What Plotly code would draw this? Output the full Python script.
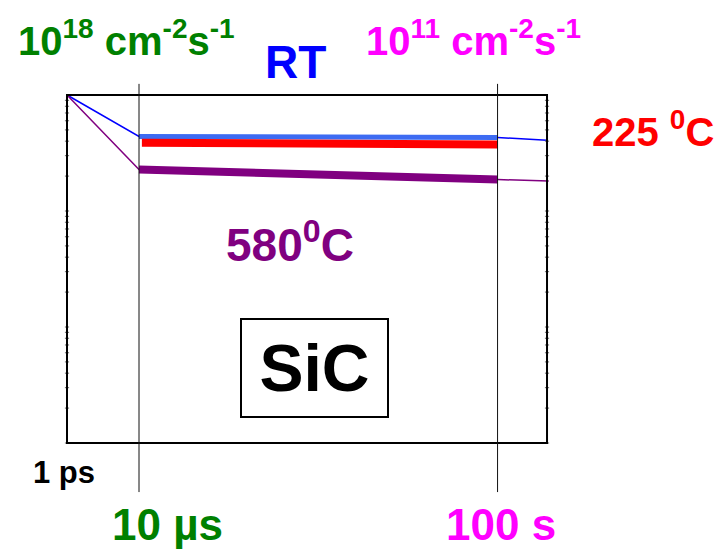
import plotly.graph_objects as go

# Schematic time axis: 1 ps at 0, 10 us at 1, 100 s at ~6 (compressed scale)
time_labels = ["1 ps", "10 µs", "100 s"]
time_pos = [0.0, 1.0, 5.98]
box_right = 6.667

# Relative level (1 = starting level at 1 ps)
rt_x = [0.0, 1.0, 5.98, 6.667]
rt_y = [1.0, 0.881, 0.878, 0.870]

t225_x = [1.04, 5.98]
t225_y = [0.863, 0.858]

t580_x = [0.0, 1.0, 5.98, 6.69]
t580_y = [1.0, 0.786, 0.757, 0.753]

# minor tick fractions inside a decade of the frame (log spacing)
minor_frac = [0.0, 0.301, 0.477, 0.602, 0.699, 0.778, 0.845, 0.903, 0.954]
n_decades = 3

W, H = 723, 551
FONT = "Liberation Sans, Arial, sans-serif"

fig = go.Figure()

# thin connecting lines
fig.add_trace(go.Scatter(x=rt_x, y=rt_y, mode="lines",
                         line=dict(color="#0000ff", width=1.5), hoverinfo="skip"))
fig.add_trace(go.Scatter(x=t580_x, y=t580_y, mode="lines",
                         line=dict(color="#800080", width=1.5), hoverinfo="skip"))
# thick segments between 10 us and 100 s
fig.add_trace(go.Scatter(x=rt_x[1:3], y=rt_y[1:3], mode="lines",
                         line=dict(color="#3d6bf2", width=5), hoverinfo="skip"))
fig.add_trace(go.Scatter(x=t225_x, y=t225_y, mode="lines",
                         line=dict(color="#ff0000", width=8), hoverinfo="skip"))
fig.add_trace(go.Scatter(x=t580_x[1:3], y=t580_y[1:3], mode="lines",
                         line=dict(color="#800080", width=8), hoverinfo="skip"))

# small ticks on the left and right frame edges
tick_y = []
for d in range(n_decades):
    for f in minor_frac:
        tick_y.append((d + f) / n_decades)
for xe in (0.0, box_right):
    fig.add_trace(go.Scatter(x=[xe] * len(tick_y), y=tick_y, mode="markers",
                             marker=dict(symbol="line-ew", size=3,
                                         line=dict(color="#666666", width=1)),
                             hoverinfo="skip"))

# frame
fig.add_shape(type="rect", x0=0, x1=box_right, y0=0, y1=1,
              line=dict(color="black", width=2))
# time markers
for xp in time_pos[1:]:
    fig.add_shape(type="line", x0=xp, x1=xp, y0=-0.141, y1=1.032,
                  line=dict(color="#111111", width=1))


def px(x):
    return x / W


def py(y):
    return 1 - y / H


def label(text, xc, base, size, color, **kw):
    fig.add_annotation(text=text, x=px(xc), y=py(base - 0.33 * size),
                       xref="paper", yref="paper", showarrow=False,
                       xanchor="center", yanchor="middle",
                       font=dict(family=FONT, size=size, color=color, weight="bold"),
                       **kw)


label("10<sup>18</sup> cm<sup>-2</sup>s<sup>-1</sup>", 126, 51, 40, "#008000")
label("10<sup>11</sup> cm<sup>-2</sup>s<sup>-1</sup>", 473, 51, 40, "#ff00ff")
label("RT", 295, 77, 46, "#0000ff")
label("225 <sup>0</sup>C", 653, 142, 40, "#ff0000")
label("580<sup>0</sup>C", 290, 257, 46, "#800080")
label(time_labels[0], 64, 483, 31, "#000000")
label(time_labels[1], 167, 539, 44, "#008000")
label(time_labels[2], 501, 539, 44, "#ff00ff")

fig.add_annotation(text="SiC", x=px(314.5), y=py(368), xref="paper", yref="paper",
                   showarrow=False, xanchor="center", yanchor="middle",
                   width=145, height=96, bordercolor="black", borderwidth=2,
                   borderpad=0, bgcolor="white",
                   font=dict(family=FONT, size=66, color="black", weight="bold"))

fig.update_layout(
    width=W, height=H, autosize=False,
    margin=dict(l=0, r=0, t=0, b=0),
    paper_bgcolor="white", plot_bgcolor="white",
    showlegend=False,
    xaxis=dict(range=[-67 / 72, (W - 67) / 72], visible=False, fixedrange=True),
    yaxis=dict(range=[-(H - 443) / 348, 443 / 348], visible=False, fixedrange=True),
)

fig.write_html("out.html")
